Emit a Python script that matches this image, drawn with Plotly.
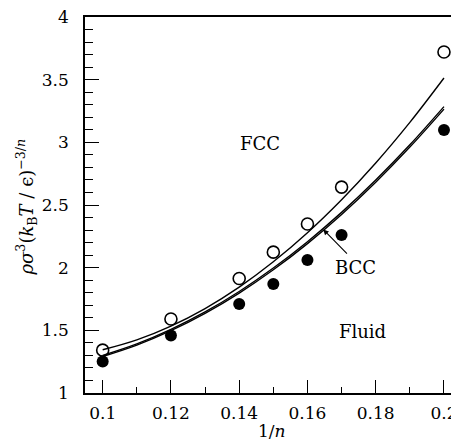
import plotly.graph_objects as go

# Data
inv_n = [0.10, 0.12, 0.14, 0.15, 0.16, 0.17, 0.20]
open_vals = [1.342, 1.590, 1.914, 2.124, 2.348, 2.643, 3.721]
filled_vals = [1.252, 1.459, 1.710, 1.869, 2.061, 2.260, 3.098]

curve_x = [0.10, 0.11, 0.12, 0.13, 0.14, 0.15, 0.16, 0.17, 0.18, 0.19, 0.20]
upper_curve = [1.345, 1.424, 1.534, 1.674, 1.845, 2.047, 2.279, 2.542, 2.835, 3.159, 3.513]
bcc_upper = [1.300, 1.392, 1.508, 1.647, 1.810, 1.997, 2.207, 2.441, 2.699, 2.980, 3.285]
bcc_lower = [1.291, 1.382, 1.497, 1.635, 1.797, 1.983, 2.192, 2.425, 2.682, 2.962, 3.265]

x_ticks = [0.1, 0.12, 0.14, 0.16, 0.18, 0.2]
x_ticktext = ["0.1", "0.12", "0.14", "0.16", "0.18", "0.2"]
y_ticks = [1, 1.5, 2, 2.5, 3, 3.5, 4]
y_ticktext = ["1", "1.5", "2", "2.5", "3", "3.5", "4"]

FONT = "DejaVu Serif"

fig = go.Figure()
for ys in (upper_curve, bcc_upper, bcc_lower):
    fig.add_trace(go.Scatter(x=curve_x, y=ys, mode="lines", line=dict(color="black", width=1.4, shape="spline"),
                             hoverinfo="skip", showlegend=False))
fig.add_trace(go.Scatter(x=inv_n, y=open_vals, mode="markers",
                         marker=dict(symbol="circle-open", size=12, color="black", line=dict(width=1.6)),
                         showlegend=False))
fig.add_trace(go.Scatter(x=inv_n, y=filled_vals, mode="markers",
                         marker=dict(symbol="circle", size=12, color="black"),
                         showlegend=False))

fig.add_annotation(x=0.1461, y=2.99, text="FCC", showarrow=False, font=dict(family=FONT, size=18, color="black"))
fig.add_annotation(x=0.176, y=1.49, text="Fluid", showarrow=False, font=dict(family=FONT, size=18, color="black"))
fig.add_annotation(x=0.1741, y=2.00, text="BCC", showarrow=False, font=dict(family=FONT, size=18, color="black"))
fig.add_annotation(x=0.1646, y=2.305, ax=0.172, ay=2.10, axref="x", ayref="y", xref="x", yref="y",
                   text="", showarrow=True, arrowhead=2, arrowsize=1, arrowwidth=1.1, arrowcolor="black")

# page body has an 8px margin: the figure is sized/placed to compensate
W, H, L, T, B = 451, 437, 77, 9, 52
PW, PH = W - L, H - T - B

# axis titles
fig.add_annotation(xref="paper", yref="paper", x=0.5, y=(385 - 423) / PH, yanchor="middle", xanchor="center",
                   text="1/<i>n</i>", showarrow=False, font=dict(family=FONT, size=17, color="black"))
fig.add_annotation(xref="paper", yref="paper", x=(26.5 - 85) / PW, y=(393 - 207) / PH,
                   xanchor="center", yanchor="middle", textangle=-90,
                   text="<i>ρσ</i><sup>3</sup>(<i>k</i><sub>B</sub><i>T</i> / ϵ)<sup>−3/<i>n</i></sup>",
                   showarrow=False, font=dict(family=FONT, size=18, color="black"))

fig.update_layout(
    width=W, height=H,
    margin=dict(l=L, r=0, t=T, b=B),
    paper_bgcolor="white", plot_bgcolor="white",
    font=dict(family=FONT, size=17, color="black"),
    xaxis=dict(range=[0.09482, 0.2044], tickvals=x_ticks, ticktext=x_ticktext,
               ticks="inside", ticklen=13, tickwidth=1.2, tickcolor="black",
               showline=True, linecolor="black", linewidth=1.5, mirror=True,
               showgrid=False, zeroline=False, automargin=False, ticklabelstandoff=4,
               ticklabeloverflow="allow",
               minor=dict(dtick=0.01, tick0=0.1, ticks="inside", ticklen=6, tickwidth=1.1, tickcolor="black"),
               tickfont=dict(family=FONT, size=17)),
    yaxis=dict(range=[1, 4], tickvals=y_ticks, ticktext=y_ticktext,
               ticks="inside", ticklen=14, tickwidth=1.2, tickcolor="black",
               showline=True, linecolor="black", linewidth=1.5, mirror=False,
               showgrid=False, zeroline=False, automargin=False, ticklabelstandoff=11,
               ticklabeloverflow="allow",
               minor=dict(dtick=0.1, tick0=1, ticks="inside", ticklen=8, tickwidth=1.1, tickcolor="black"),
               tickfont=dict(family=FONT, size=17)),
)

fig.write_html("out.html")
